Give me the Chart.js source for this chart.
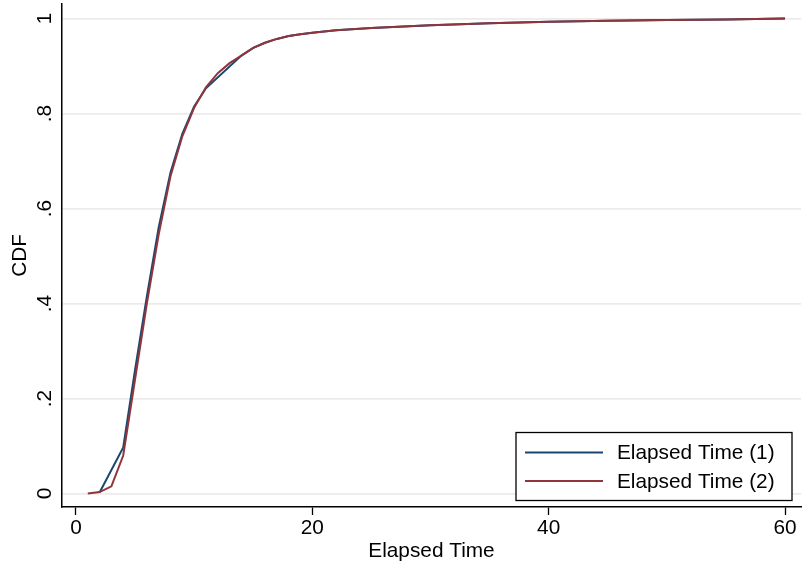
<!DOCTYPE html>
<html>
<head>
<meta charset="utf-8">
<script src="https://cdn.jsdelivr.net/npm/chart.js@4"></script>
<style>
  html, body { margin: 0; padding: 0; background: #fff; }
  #wrap { width: 802px; height: 568px; }
</style>
</head>
<body>
<div id="wrap"><canvas id="cdfChart"></canvas></div>
<script>
// data
const xVals1 = [2, 4, 5, 6, 7, 8, 9, 10, 11, 14, 15, 16, 17, 18, 19, 20, 22, 25, 30, 35, 40, 45, 50, 55, 60];
const cdf1 = [0.002, 0.097, 0.26, 0.415, 0.56, 0.676, 0.757, 0.815, 0.853, 0.922, 0.938, 0.949, 0.957, 0.963, 0.967, 0.970, 0.975, 0.980, 0.986, 0.990, 0.993, 0.995, 0.997, 0.998, 1.0];
const xVals2 = [1, 2, 3, 4, 5, 6, 7, 8, 9, 10, 11, 12, 13, 14, 15, 16, 17, 18, 19, 20, 22, 25, 30, 35, 40, 45, 50, 55, 60];
const cdf2 = [0.0, 0.003, 0.015, 0.08, 0.24, 0.40, 0.545, 0.668, 0.752, 0.812, 0.855, 0.885, 0.906, 0.922, 0.938, 0.949, 0.957, 0.963, 0.967, 0.970, 0.975, 0.980, 0.986, 0.990, 0.993, 0.995, 0.997, 0.998, 1.0];
const seriesNames = ['Elapsed Time (1)', 'Elapsed Time (2)'];
const xTicks = [0, 20, 40, 60];
const yTicks = [0, 0.2, 0.4, 0.6, 0.8, 1];
const yTickLabels = ['0', '.2', '.4', '.6', '.8', '1'];

const FONT = 'Liberation Sans, Arial, Helvetica, sans-serif';
const FSIZE = 20.8;
const colors = ['#1a476f', '#90353b'];

function toPoints(xs, ys) {
  return xs.map((x, i) => ({ x: x, y: ys[i] }));
}

// y tick labels, rotated like Stata
const yLabelPlugin = {
  id: 'yLabels',
  afterDraw(chart) {
    const ctx = chart.ctx;
    const ys = chart.scales.y;
    ctx.save();
    ctx.fillStyle = '#000';
    ctx.font = FSIZE + 'px ' + FONT;
    ctx.textAlign = 'center';
    ctx.textBaseline = 'middle';
    yTicks.forEach((v, i) => {
      const py = ys.getPixelForValue(v);
      ctx.save();
      ctx.translate(ys.right - 17, py);
      ctx.rotate(-Math.PI / 2);
      ctx.fillText(yTickLabels[i], 0, 0);
      ctx.restore();
    });
    ctx.restore();
  }
};

// boxed legend inside the plot, bottom right
const boxLegendPlugin = {
  id: 'boxLegend',
  afterDraw(chart) {
    const ctx = chart.ctx;
    const area = chart.chartArea;
    const w = 276, h = 68;
    const right = area.right - 9;
    const bottom = chart.scales.y.getPixelForValue(0) + 7;
    const left = right - w, top = bottom - h;
    ctx.save();
    ctx.fillStyle = '#fff';
    ctx.fillRect(left, top, w, h);
    ctx.strokeStyle = '#000';
    ctx.lineWidth = 1.3;
    ctx.strokeRect(left, top, w, h);
    ctx.font = FSIZE + 'px ' + FONT;
    ctx.textBaseline = 'middle';
    ctx.textAlign = 'left';
    seriesNames.forEach((name, i) => {
      const ry = top + 20 + i * 28.5;
      ctx.strokeStyle = colors[i];
      ctx.lineWidth = 2;
      ctx.beginPath();
      ctx.moveTo(left + 9, ry);
      ctx.lineTo(left + 87, ry);
      ctx.stroke();
      ctx.fillStyle = '#000';
      ctx.fillText(name, left + 101, ry + 1);
    });
    ctx.restore();
  }
};

document.addEventListener('DOMContentLoaded', function() {
  const ctx = document.getElementById('cdfChart');
  new Chart(ctx, {
    type: 'scatter',
    data: {
      datasets: [
        {
          label: seriesNames[0],
          data: toPoints(xVals1, cdf1),
          showLine: true,
          borderColor: colors[0],
          backgroundColor: colors[0],
          borderWidth: 2,
          pointRadius: 0,
          tension: 0,
          order: 1
        },
        {
          label: seriesNames[1],
          data: toPoints(xVals2, cdf2),
          showLine: true,
          borderColor: colors[1],
          backgroundColor: colors[1],
          borderWidth: 2,
          pointRadius: 0,
          tension: 0,
          order: 0
        }
      ]
    },
    options: {
      responsive: true,
      maintainAspectRatio: false,
      animation: false,
      layout: { padding: { top: 4, right: 1, left: 0, bottom: 0 } },
      plugins: {
        legend: { display: false },
        tooltip: { enabled: false }
      },
      scales: {
        x: {
          type: 'linear',
          min: -1.18,
          max: 61.35,
          afterBuildTicks: s => { s.ticks = xTicks.map(v => ({ value: v })); },
          afterFit: s => { s.height = 61; },
          grid: { drawOnChartArea: false, drawTicks: true, tickLength: 8, tickColor: '#000', tickWidth: 1.3 },
          border: { color: '#000', width: 1.5 },
          ticks: { color: '#000', font: { family: FONT, size: FSIZE }, padding: 1, maxRotation: 0 },
          title: { display: true, text: 'Elapsed Time', color: '#000', font: { family: FONT, size: FSIZE }, padding: { top: 0, bottom: 4 } }
        },
        y: {
          type: 'linear',
          min: -0.0284,
          max: 1.0305,
          afterBuildTicks: s => { s.ticks = yTicks.map(v => ({ value: v })); },
          afterFit: s => { s.width = 62; },
          grid: { color: '#ebebeb', lineWidth: 1.8, drawTicks: false },
          border: { color: '#000', width: 1.5 },
          ticks: { display: false },
          title: { display: true, text: 'CDF', color: '#000', font: { family: FONT, size: FSIZE }, padding: { top: 8, bottom: 0 } }
        }
      }
    },
    plugins: [yLabelPlugin, boxLegendPlugin]
  });
});
</script>
</body>
</html>
